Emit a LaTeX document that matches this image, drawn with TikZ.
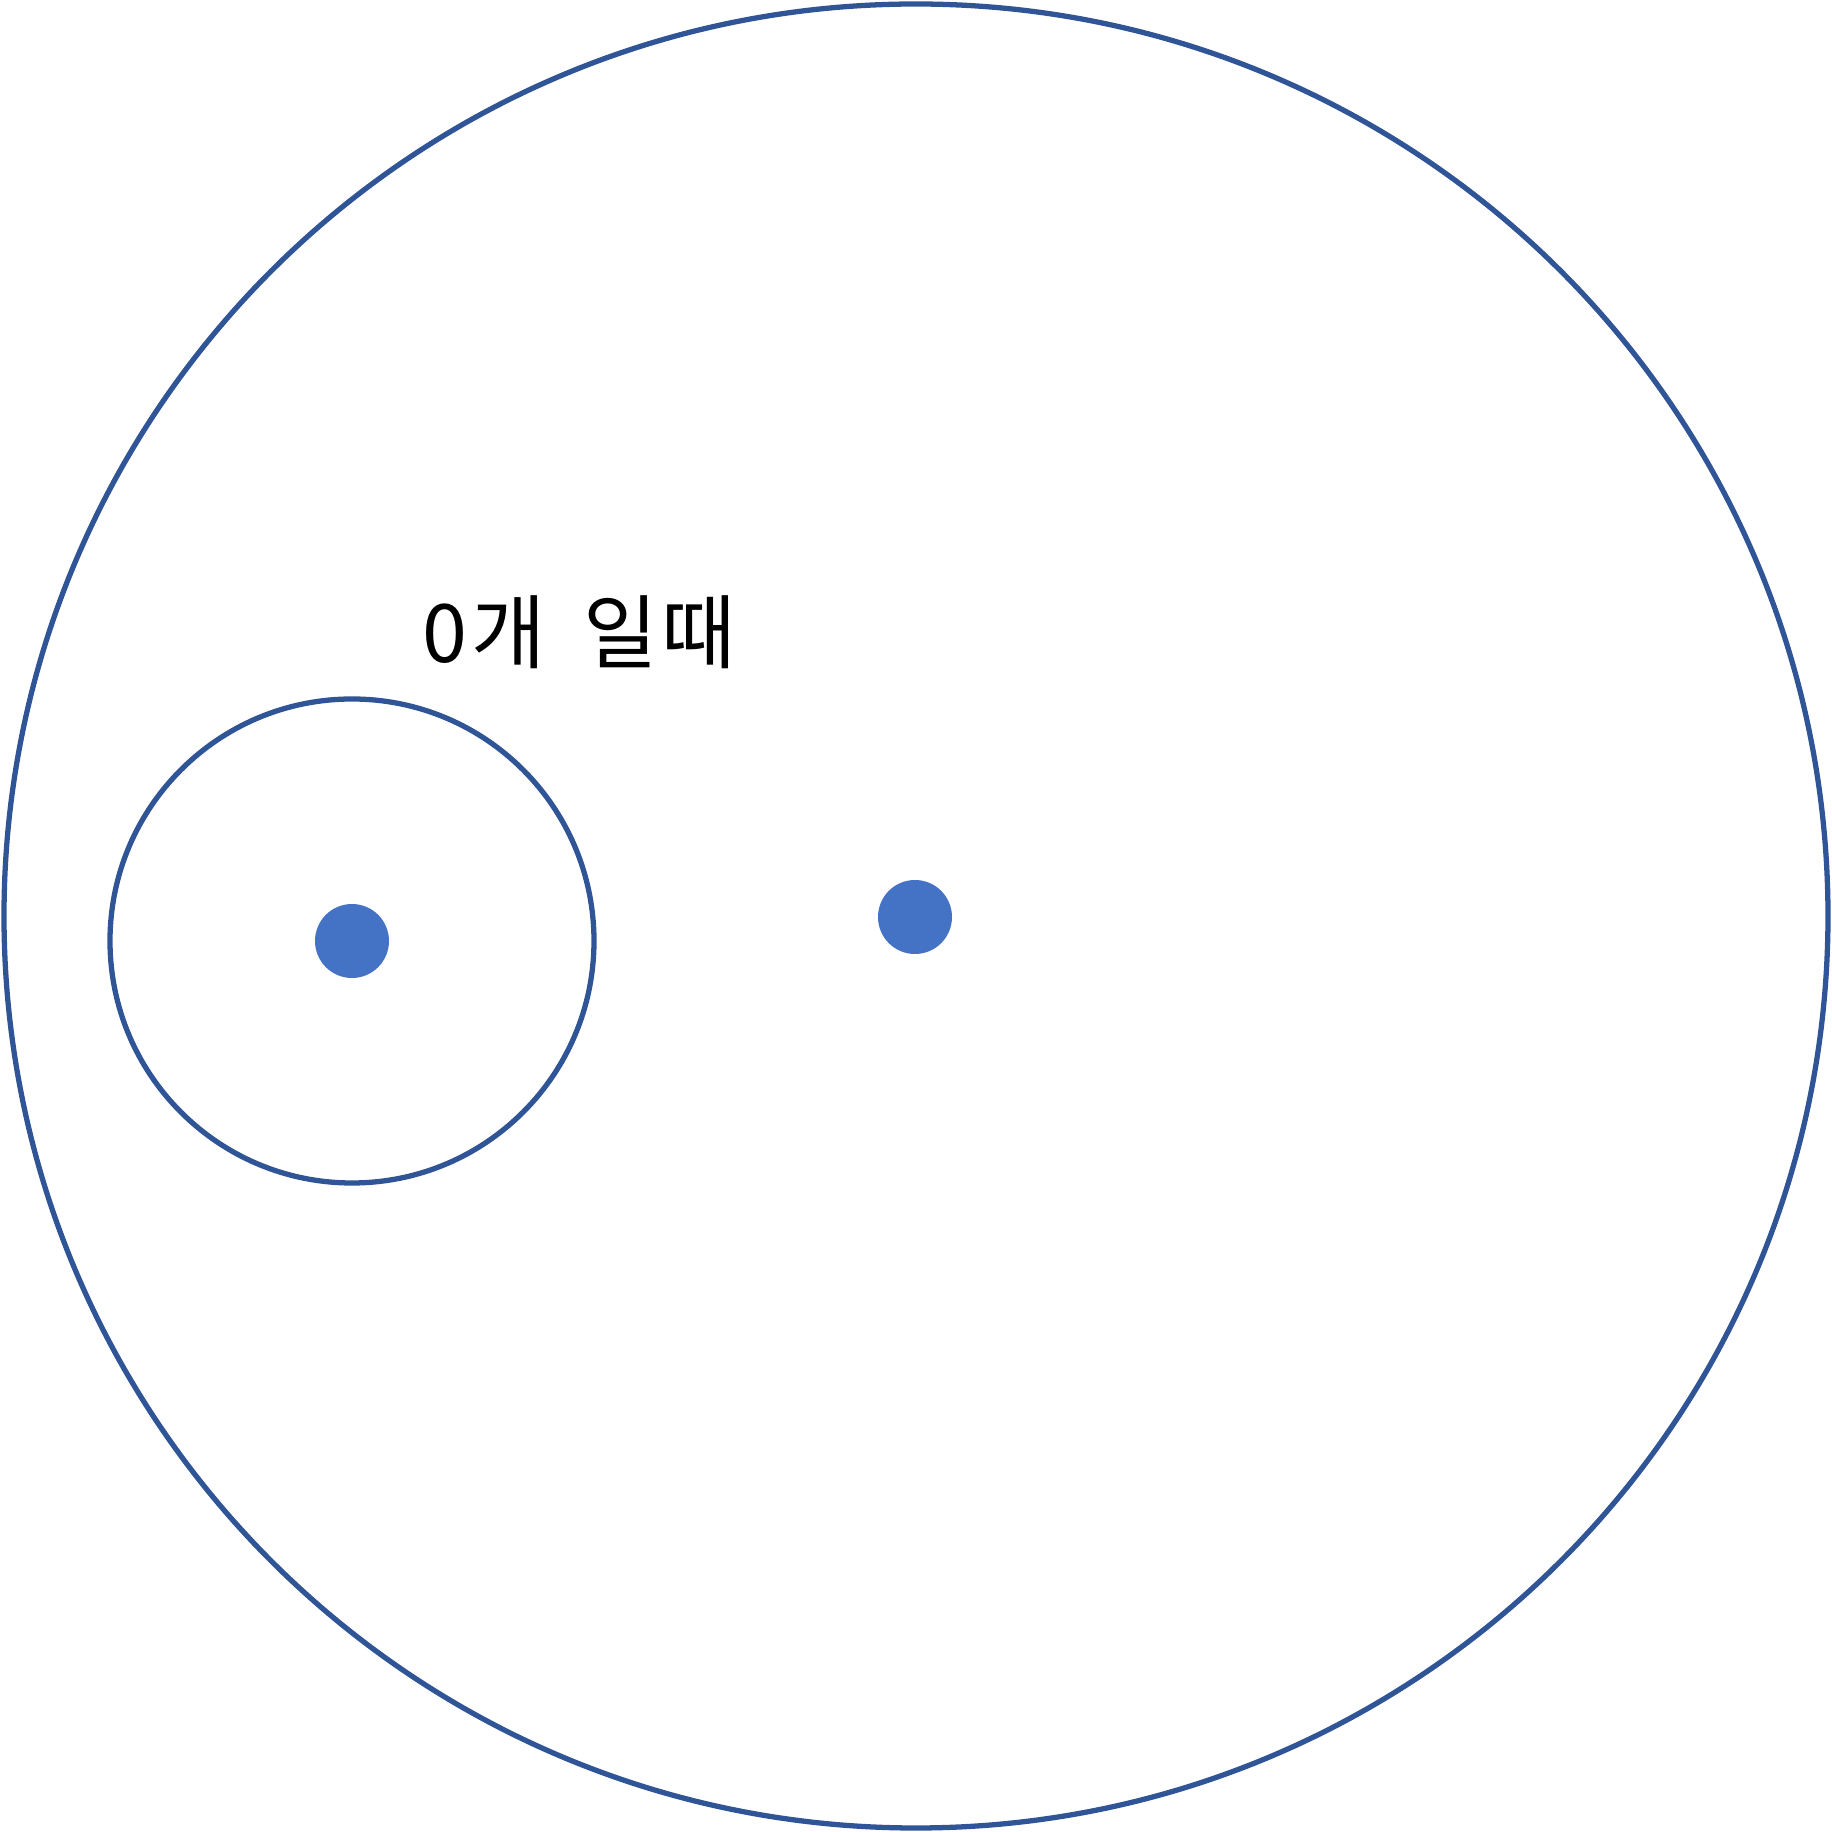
\documentclass[tikz,border=0pt]{standalone}
\usepackage{fontspec}
\newfontfamily\kor{Noto Sans CJK KR}
\definecolor{bordo}{HTML}{2F5597}
\definecolor{punto}{HTML}{4472C4}
\begin{document}
\begin{tikzpicture}[
    cerchio/.style={draw=bordo, line width=1.5pt},
    puntino/.style={circle, fill=punto, inner sep=0pt, minimum size=0.74cm}
]
    \useasboundingbox (0,0) rectangle (18.32,18.32);
    
    % Cerchio esterno
    \draw[cerchio] (9.16,9.16) circle (9.12);
    
    % Cerchio interno
    \draw[cerchio] (3.52,8.91) circle (2.42);
    
    % Punti
    \node[puntino] (pA) at (3.52,8.91) {};
    \node[puntino] (pB) at (9.15,9.15) {};
    
    % Etichetta
    \node[font=\kor\fontsize{23}{27}\selectfont] (etichetta) at (5.79,12.0)
        {0\hspace{0.04cm}개\hspace{0.2cm} 일\hspace{0.03cm}때};
\end{tikzpicture}
\end{document}
